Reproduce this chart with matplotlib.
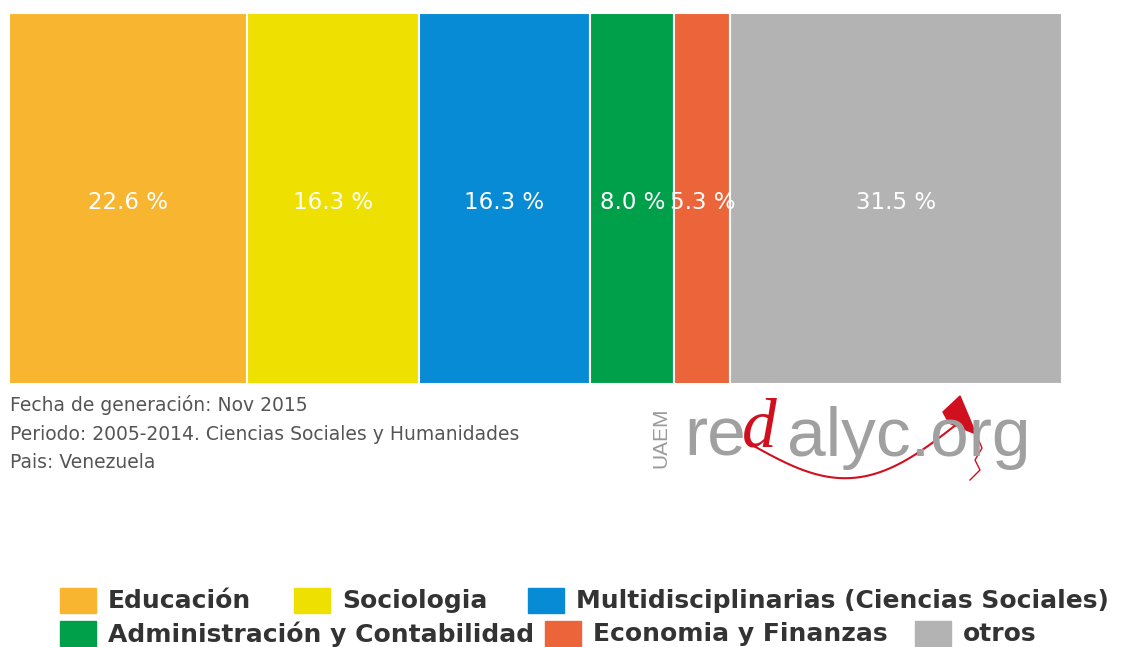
import matplotlib
matplotlib.use('Agg')
import matplotlib.pyplot as plt
import numpy as np
from matplotlib.patches import Rectangle, Polygon

# datos
categorias = ['Educación', 'Sociologia', 'Multidisciplinarias (Ciencias Sociales)',
              'Administración y Contabilidad', 'Economia y Finanzas', 'otros']
porcentajes = [22.6, 16.3, 16.3, 8.0, 5.3, 31.5]
colores = ['#F8B530', '#EEE000', '#088BD5', '#00A04B', '#EB643A', '#B3B3B3']
notas = ['Fecha de generación: Nov 2015',
         'Periodo: 2005-2014. Ciencias Sociales y Humanidades',
         'Pais: Venezuela']

fig = plt.figure(figsize=(11.22, 6.47), dpi=100)
ax = fig.add_axes([9 / 1122, 263 / 647, 1053 / 1122, 371 / 647])

izq = 0
for cat, val, col in zip(categorias, porcentajes, colores):
    ax.barh(0, val, left=izq, height=1, color=col, edgecolor='white', linewidth=1.5)
    ax.text(izq + val / 2, -0.012, '%.1f %%' % val, ha='center', va='center',
            color='white', fontsize=16.5, family='DejaVu Sans')
    izq += val
ax.set_xlim(0, sum(porcentajes))
ax.set_ylim(-0.5, 0.5)
ax.axis('off')

# notas al pie
for i, t in enumerate(notas):
    fig.text(10 / 1122, 1 - (405 + i * 29) / 647, t, ha='left', va='center',
             color='#555555', fontsize=13.5, family='DejaVu Sans')

# logo
fig.text(661 / 1122, 1 - 438 / 647, 'UAEM', rotation=90, ha='center', va='center',
         color='#9A9A9A', fontsize=15, family='Liberation Sans')
fig.text(684 / 1122, 1 - 438 / 647, 're', ha='left', va='center',
         color='#A0A0A0', fontsize=50, family='Liberation Sans')
fig.text(742 / 1122, 1 - 430 / 647, 'd', ha='left', va='center',
         color='#D0101E', fontsize=50, family='Liberation Serif', style='italic')
fig.text(787 / 1122, 1 - 438 / 647, 'alyc.org', ha='left', va='center',
         color='#A0A0A0', fontsize=50, family='Liberation Sans')
lax = fig.add_axes([0, 0, 1, 1], facecolor='none')
lax.set_xlim(0, 1122)
lax.set_ylim(647, 0)
lax.axis('off')
tt = np.linspace(0, 1, 100)
cx = 752 + (962 - 752) * tt
cy = 445 + 45 * np.sin(np.pi * tt) - 25 * tt
lax.plot(cx, cy, color='#D0101E', lw=1.5)
lax.add_patch(Polygon([[943, 412], [960, 396], [976, 434], [949, 423]],
                      closed=True, color='#D0101E'))
lax.plot([976, 982, 975, 980, 970], [434, 448, 460, 470, 480], color='#D0101E', lw=1)

# leyenda
pos = [(60, 601), (294, 601), (528, 601), (60, 634), (545, 634), (915, 634)]
for (x, y), cat, col in zip(pos, categorias, colores):
    fig.patches.append(Rectangle((x / 1122, 1 - (y + 12) / 647), 36 / 1122, 25 / 647,
                                 transform=fig.transFigure, color=col, figure=fig))
    fig.text((x + 48) / 1122, 1 - y / 647, cat, ha='left', va='center',
             color='#333333', fontsize=18, fontweight='bold', family='DejaVu Sans')

fig.savefig('out.png', dpi=100)
